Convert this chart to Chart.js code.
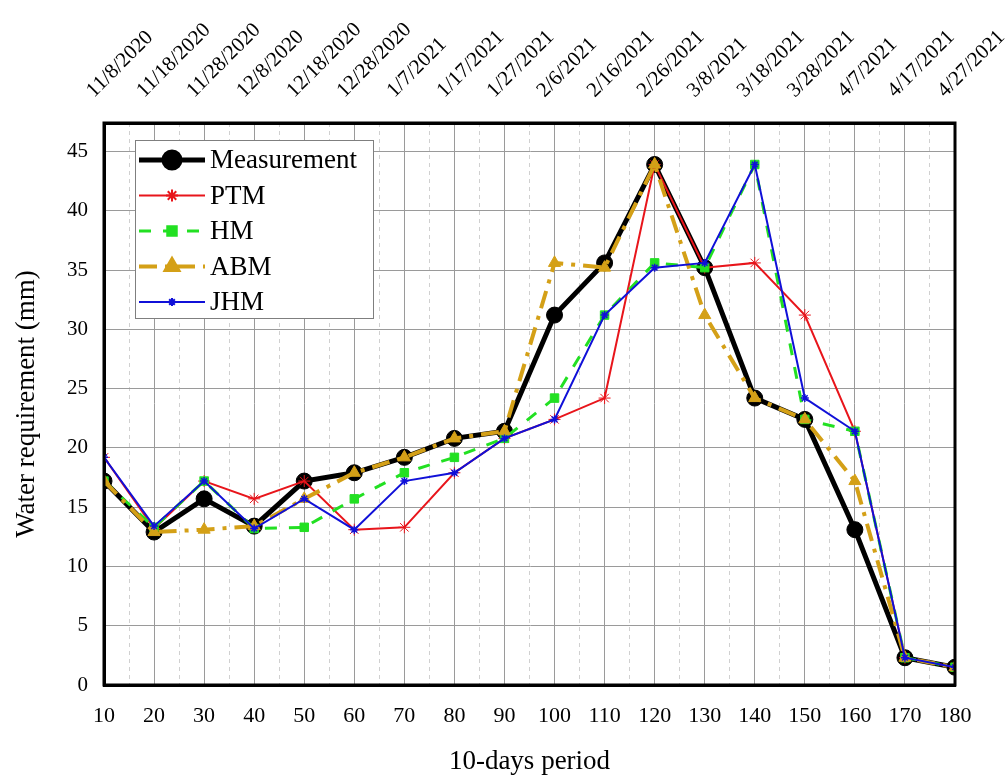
<!DOCTYPE html>
<html>
<head>
<meta charset="utf-8">
<script src="https://cdn.jsdelivr.net/npm/chart.js@4.4.1/dist/chart.umd.min.js"></script>
<style>
  html, body { margin: 0; padding: 0; background: #fff; }
</style>
</head>
<body>
<canvas id="myChart" width="1007" height="776"></canvas>
<script>
// 10-day periods and the start date of each one (top axis)
const periods = [10, 20, 30, 40, 50, 60, 70, 80, 90, 100, 110, 120, 130, 140, 150, 160, 170, 180];
const dateLabels = [
  '11/8/2020', '11/18/2020', '11/28/2020', '12/8/2020', '12/18/2020', '12/28/2020',
  '1/7/2021', '1/17/2021', '1/27/2021', '2/6/2021', '2/16/2021', '2/26/2021',
  '3/8/2021', '3/18/2021', '3/28/2021', '4/7/2021', '4/17/2021', '4/27/2021',
];
const yTicks = [0, 5, 10, 15, 20, 25, 30, 35, 40, 45];

const measurement = [17.2, 12.9, 15.7, 13.4, 17.2, 17.9, 19.2, 20.8, 21.4, 31.2, 35.6, 43.9, 35.2, 24.2, 22.4, 13.1, 2.3, 1.5];
const ptm = [19.2, 13.2, 17.2, 15.7, 17.2, 13.1, 13.3, 17.9, 20.8, 22.4, 24.2, 43.9, 35.2, 35.6, 31.2, 21.4, 2.3, 1.5];
const hm = [17.2, 13.3, 17.2, 13.2, 13.3, 15.7, 17.9, 19.2, 20.8, 24.2, 31.2, 35.6, 35.2, 43.9, 22.4, 21.4, 2.3, 1.5];
const abm = [17.2, 12.9, 13.1, 13.4, 15.7, 17.9, 19.2, 20.8, 21.4, 35.6, 35.2, 43.9, 31.2, 24.2, 22.4, 17.2, 2.3, 1.5];
const jhm = [19.2, 13.4, 17.2, 13.2, 15.7, 13.1, 17.2, 17.9, 20.8, 22.4, 31.2, 35.2, 35.6, 43.9, 24.2, 21.4, 2.3, 1.5];

const serif = '"Liberation Serif", "Times New Roman", serif';
const toPoints = (arr) => arr.map((v, i) => ({ x: periods[i], y: v }));

const isMajor = (ctx) => !ctx.tick || ctx.tick.value % 10 === 0;
const noPad = (s) => { s.paddingLeft = 0; s.paddingRight = 0; s.paddingTop = 0; s.paddingBottom = 0; };

// legend drawn inside the plot, top-left
const innerLegend = {
  id: 'innerLegend',
  afterDraw(chart) {
    const c = chart.ctx;
    const x0 = 135, y0 = 140, w = 238, h = 178;
    c.save();
    c.fillStyle = '#fff';
    c.fillRect(x0, y0, w, h);
    c.strokeStyle = '#7f7f7f';
    c.lineWidth = 1;
    c.strokeRect(x0 + 0.5, y0 + 0.5, w, h);
    chart.data.datasets.forEach((ds, i) => {
      const y = y0 + 20 + i * 35.5;
      c.strokeStyle = ds.borderColor;
      c.lineWidth = ds.borderWidth;
      c.setLineDash(ds.borderDash || []);
      c.beginPath();
      c.moveTo(x0 + 4, y);
      c.lineTo(x0 + 70, y);
      c.stroke();
      c.setLineDash([]);
      c.fillStyle = ds.pointBackgroundColor;
      c.strokeStyle = ds.pointBorderColor;
      Chart.helpers.drawPoint(c, {
        pointStyle: ds.pointStyle,
        radius: ds.pointRadius,
        borderWidth: ds.pointBorderWidth || 1,
        rotation: 0,
      }, x0 + 37, y);
      c.fillStyle = '#000';
      c.font = '27px ' + serif;
      c.textBaseline = 'middle';
      c.textAlign = 'left';
      c.fillText(ds.label, x0 + 75, y + 1);
    });
    c.restore();
  },
};

// black frame round the plot area
const frame = {
  id: 'frame',
  afterDatasetsDraw(chart) {
    const a = chart.chartArea, c = chart.ctx;
    c.save();
    c.strokeStyle = '#000';
    c.lineWidth = 3;
    c.strokeRect(a.left, a.top, a.right - a.left, a.bottom - a.top);
    c.restore();
  },
};

const series = [
  { label: 'Measurement', values: measurement, color: '#000000', width: 5, dash: [], style: 'circle', r: 8, bw: 1 },
  { label: 'PTM', values: ptm, color: '#e8151b', width: 2, dash: [], style: 'star', r: 6, bw: 1 },
  { label: 'HM', values: hm, color: '#22e022', width: 3, dash: [12, 12], style: 'rect', r: 6, bw: 1 },
  { label: 'ABM', values: abm, color: '#d4a017', width: 4, dash: [18, 8, 4, 8], style: 'triangle', r: 7, bw: 1 },
  { label: 'JHM', values: jhm, color: '#1010d8', width: 2, dash: [], style: 'star', r: 4, bw: 1.5 },
];

new Chart('myChart', {
  type: 'line',
  data: {
    datasets: series.map((s, i) => ({
      label: s.label,
      data: toPoints(s.values),
      order: series.length - i,
      borderColor: s.color,
      backgroundColor: s.color,
      borderWidth: s.width,
      borderDash: s.dash,
      pointStyle: s.style,
      pointRadius: s.r,
      pointBorderWidth: s.bw,
      pointBackgroundColor: s.color,
      pointBorderColor: s.color,
    })),
  },
  options: {
    responsive: false,
    animation: false,
    devicePixelRatio: 1,
    layout: { padding: { left: 0, right: 52, top: 0, bottom: 0 } },
    plugins: { legend: { display: false }, tooltip: { enabled: false } },
    elements: { line: { tension: 0 } },
    scales: {
      x: {
        type: 'linear', position: 'bottom', min: 10, max: 180,
        afterFit: (s) => { s.height = 91; noPad(s); },
        ticks: {
          stepSize: 5, autoSkip: false, maxRotation: 0, minRotation: 0,
          padding: 18, color: '#000', font: { family: serif, size: 22 },
          callback: (v) => (v % 10 === 0 ? String(v) : ''),
        },
        grid: {
          drawTicks: false,
          color: (ctx) => (isMajor(ctx) ? '#9a9a9a' : '#d0d0d0'),
          lineWidth: 1,
        },
        border: { display: true, color: '#000', width: 3, dash: (ctx) => (isMajor(ctx) ? [] : [4, 4]) },
        title: {
          display: true, text: '10-days period', color: '#000',
          font: { family: serif, size: 27, lineHeight: 1 }, padding: { top: 0, bottom: 1 },
        },
      },
      x2: {
        type: 'linear', position: 'top', min: 10, max: 180,
        afterFit: (s) => { s.height = 123; noPad(s); },
        ticks: {
          stepSize: 5, autoSkip: false, maxRotation: 45, minRotation: 45,
          padding: 20, labelOffset: 4, color: '#000', font: { family: serif, size: 21 },
          callback: (v) => (v % 10 === 0 ? dateLabels[(v - 10) / 10] : ''),
        },
        grid: { drawOnChartArea: false, drawTicks: false },
        border: { display: true, color: '#000', width: 3 },
      },
      y: {
        min: 0, max: 47.4,
        afterFit: (s) => { s.width = 104; noPad(s); },
        afterBuildTicks: (s) => { s.ticks = yTicks.map((v) => ({ value: v })); },
        ticks: { padding: 16, color: '#000', font: { family: serif, size: 21 } },
        grid: { drawTicks: false, color: '#9a9a9a', lineWidth: 1 },
        border: { display: true, color: '#000', width: 3 },
        title: {
          display: true, text: 'Water requirement (mm)', color: '#000',
          font: { family: serif, size: 27 }, padding: { top: 11, bottom: 0 },
        },
      },
    },
  },
  plugins: [frame, innerLegend],
});
</script>
</body>
</html>
